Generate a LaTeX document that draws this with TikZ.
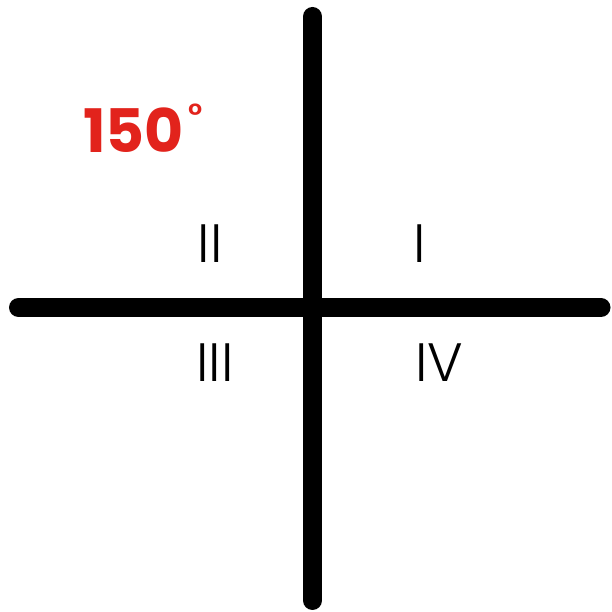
\documentclass[tikz,border=0pt]{standalone}
\usepackage{fontspec}
\setmainfont{Poppins}
\newfontfamily\lightfont{Poppins Light}
\definecolor{degred}{HTML}{E2231C}
\tikzset{
  axis/.style={line width=19pt, line cap=round, black},
  quad/.style={inner sep=0pt, anchor=base, font=\lightfont\fontsize{54}{60}\selectfont},
  angle/.style={inner sep=0pt, anchor=base west, text=degred, font=\fontsize{60}{66}\selectfont\bfseries}
}
\begin{document}
\begin{tikzpicture}[x=1pt,y=1pt]
\useasboundingbox[fill=white] (0,0) rectangle (611,612);
\coordinate (top) at (312.5,595.5);
\coordinate (bottom) at (312.5,11.5);
\coordinate (left) at (18.5,304.5);
\coordinate (right) at (601,304.5);
\draw[axis] (top) -- (bottom);
\draw[axis] (left) -- (right);
\node[quad] (q2) at (210,349) {II};
\node[quad] (q1) at (420,349) {I};
\node[quad] (q3) at (215,230) {III};
\node[quad] (q4) at (439,230) {IV};
\node[angle] (ang) at (83,459) {150\hspace{5pt}\raisebox{26pt}{\lightfont\fontsize{32}{32}\selectfont°}};
\end{tikzpicture}
\end{document}
